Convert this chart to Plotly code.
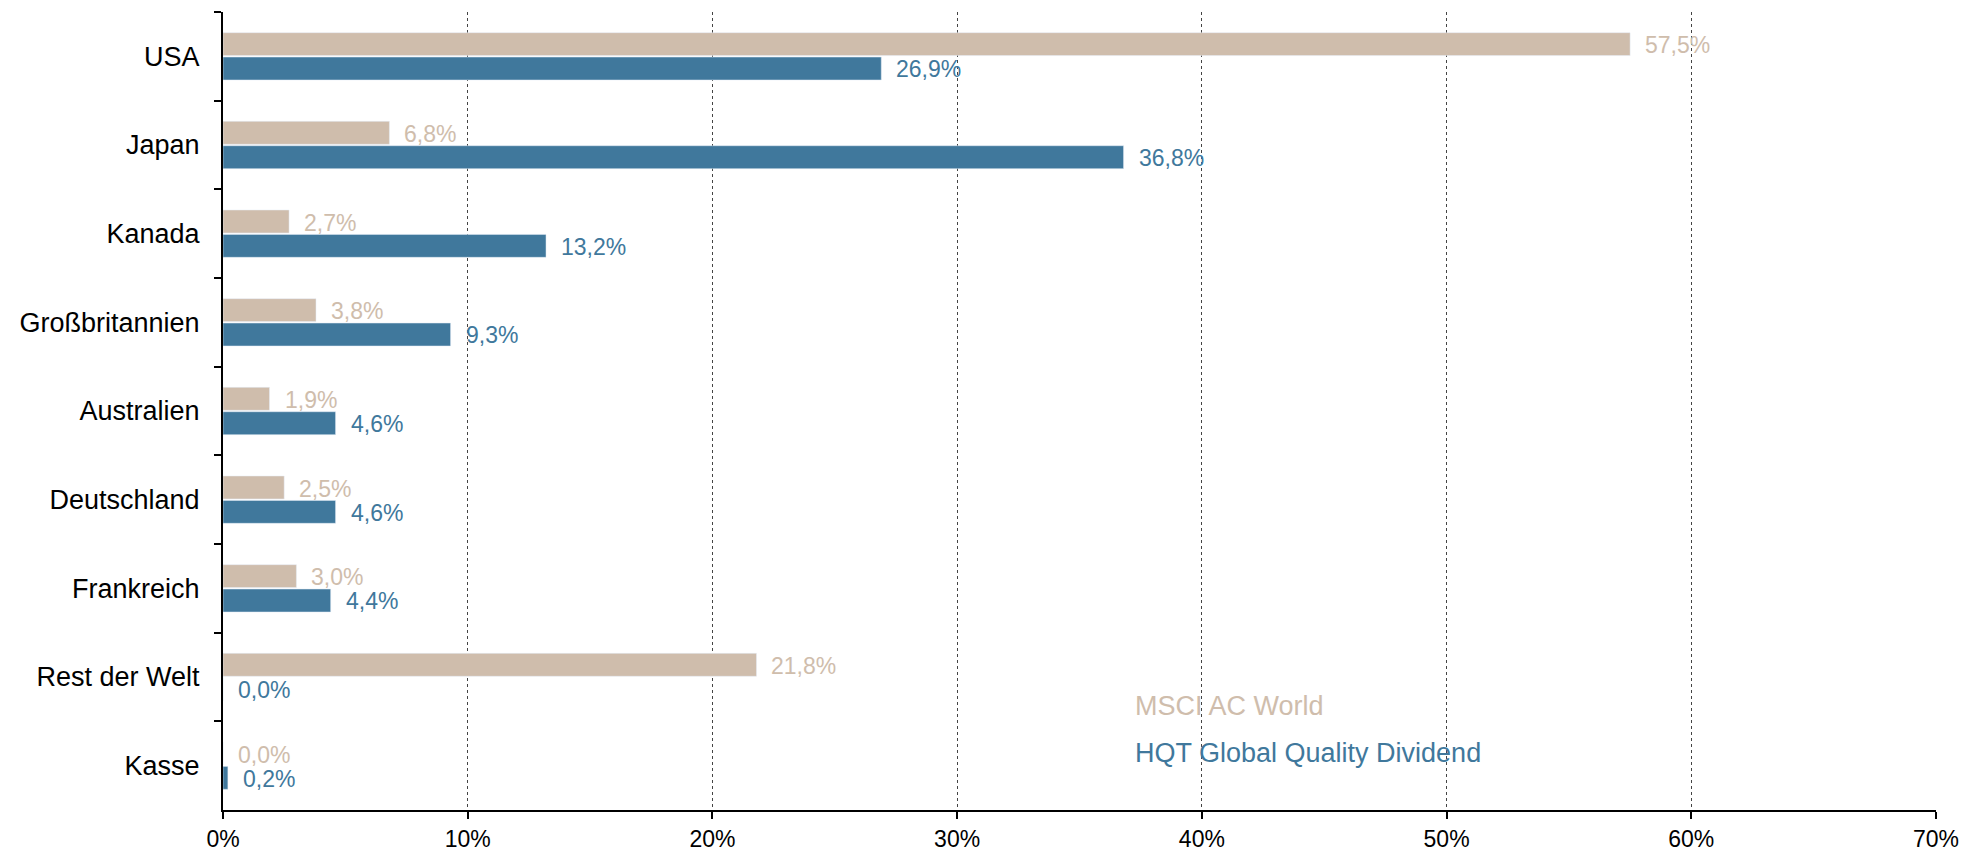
import plotly.graph_objects as go

countries = ['USA', 'Japan', 'Kanada', 'Großbritannien', 'Australien',
             'Deutschland', 'Frankreich', 'Rest der Welt', 'Kasse']
msci_world = [57.5, 6.8, 2.7, 3.8, 1.9, 2.5, 3.0, 21.8, 0.0]
hqt_dividend = [26.9, 36.8, 13.2, 9.3, 4.6, 4.6, 4.4, 0.0, 0.2]

beige = '#cfbdac'
blue = '#40789c'
font = 'Liberation Sans, Arial, Helvetica, sans-serif'


def fmt(v):
    return f"{v:.1f}".replace('.', ',') + '%'


fig = go.Figure()
fig.add_trace(go.Bar(y=countries, x=msci_world, orientation='h',
                     name='MSCI AC World', marker_color=beige))
fig.add_trace(go.Bar(y=countries, x=hqt_dividend, orientation='h',
                     name='HQT Global Quality Dividend', marker_color=blue))

# value labels beside each bar
annotations = []
for series, color, shift in [(msci_world, beige, 11), (hqt_dividend, blue, -13)]:
    for c, v in zip(countries, series):
        annotations.append(dict(x=v, y=c, xref='x', yref='y', text=fmt(v),
                                showarrow=False, xanchor='left', xshift=13,
                                yshift=shift, font=dict(size=23, color=color, family=font)))

# legend as coloured text
annotations.append(dict(x=0.531, y=0.130, xref='paper', yref='paper', text='MSCI AC World',
                        showarrow=False, xanchor='left', yanchor='middle',
                        font=dict(size=27, color=beige, family=font)))
annotations.append(dict(x=0.531, y=0.071, xref='paper', yref='paper',
                        text='HQT Global Quality Dividend', showarrow=False,
                        xanchor='left', yanchor='middle',
                        font=dict(size=27, color=blue, family=font)))

fig.update_layout(
    width=1984, height=848,
    margin=dict(l=215, r=56, t=4, b=46),
    barmode='group', bargap=0.45, bargroupgap=0.06,
    plot_bgcolor='white', paper_bgcolor='white',
    showlegend=False,
    annotations=annotations,
    font=dict(family=font, color='black'),
)
fig.update_xaxes(range=[0, 70], dtick=10, ticksuffix='%',
                 showgrid=True, gridcolor='#444444', griddash='dot', gridwidth=1,
                 showline=True, linecolor='black', linewidth=2,
                 ticks='outside', ticklen=7, tickwidth=2, tickcolor='black',
                 tickfont=dict(size=23, color='black'), zeroline=False)
fig.update_yaxes(autorange='reversed', showgrid=False,
                 showline=True, linecolor='black', linewidth=2,
                 ticks='outside', tickson='boundaries', ticklen=7, tickwidth=2,
                 tickcolor='black', tickfont=dict(size=27, color='black'),
                 ticklabelstandoff=16)

fig.write_html("out.html")
